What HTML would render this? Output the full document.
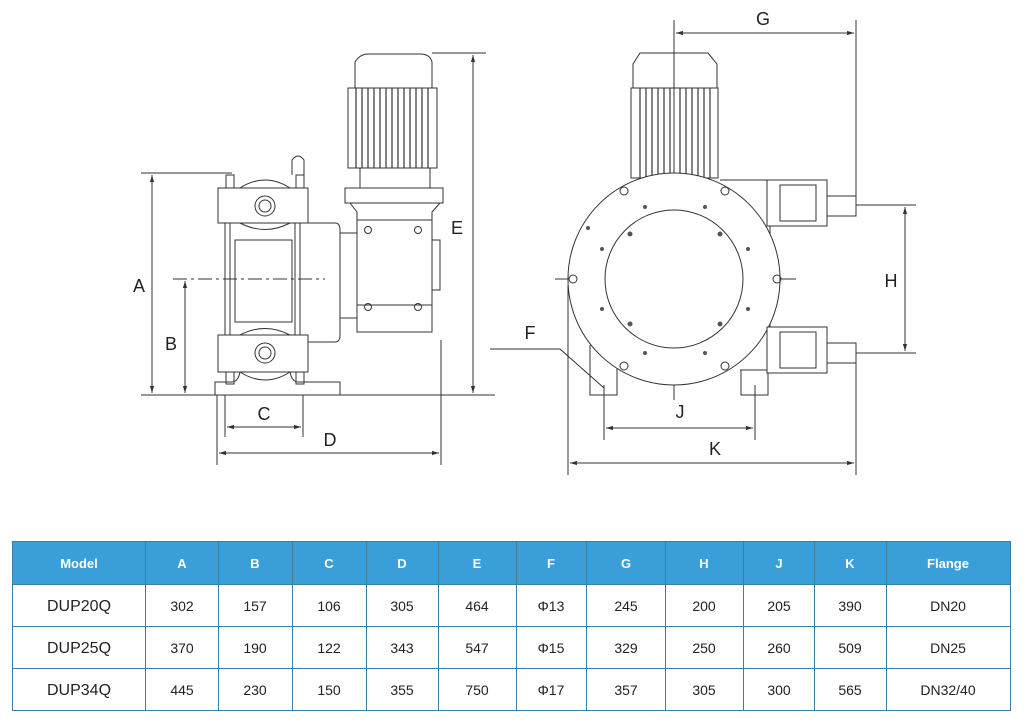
<!DOCTYPE html>
<html><head><meta charset="utf-8"><style>
body{margin:0;background:#fff;width:1026px;height:724px;overflow:hidden;font-family:"Liberation Sans",sans-serif}
svg{position:absolute;left:0;top:0}
text{font-family:"Liberation Sans",sans-serif}
</style></head><body>
<svg width="1026" height="724" viewBox="0 0 1026 724">
<defs>
<marker id="a" viewBox="0 0 10 10" refX="10" refY="5" markerWidth="9" markerHeight="7" orient="auto-start-reverse"><path d="M0,2 L10,5 L0,8 z" fill="#333"/></marker>
</defs>
<g stroke="#333" stroke-width="1" fill="none">
<!-- LEFT VIEW dimension lines -->
<line x1="141" y1="173" x2="232" y2="173"/>
<line x1="141" y1="395" x2="495" y2="395"/>
<line x1="152" y1="175" x2="152" y2="393" marker-start="url(#a)" marker-end="url(#a)"/>
<line x1="185" y1="281" x2="185" y2="393" marker-start="url(#a)" marker-end="url(#a)"/>
<line x1="173" y1="279" x2="325" y2="279" stroke-dasharray="14,4,3,4"/>
<line x1="225" y1="395" x2="225" y2="437"/><line x1="303" y1="395" x2="303" y2="437"/>
<line x1="227" y1="427" x2="301" y2="427" marker-start="url(#a)" marker-end="url(#a)"/>
<line x1="217" y1="395" x2="217" y2="465"/><line x1="441" y1="340" x2="441" y2="465"/>
<line x1="219" y1="453" x2="439" y2="453" marker-start="url(#a)" marker-end="url(#a)"/>
<line x1="432" y1="53" x2="486" y2="53"/>
<line x1="473" y1="55" x2="473" y2="393" marker-start="url(#a)" marker-end="url(#a)"/>
<!-- pump body left -->
<rect x="218" y="188" width="90" height="35"/>
<rect x="218" y="335" width="90" height="37"/>
<rect x="225" y="223" width="75" height="112"/>
<rect x="235" y="240" width="57" height="82"/>
<line x1="230" y1="223" x2="230" y2="335"/><line x1="295" y1="223" x2="295" y2="335"/>
<path d="M300,223 H335 Q340,223 340,230 V335 Q340,342 335,342 H308"/>
<circle cx="265" cy="206" r="10"/><circle cx="265" cy="206" r="6"/>
<circle cx="265" cy="353" r="10"/><circle cx="265" cy="353" r="6"/>
<path d="M240,188 Q265,172 290,188"/><path d="M240,372 Q265,388 290,372"/>
<path d="M240,223 Q265,236 290,223"/><path d="M240,335 Q265,322 290,335"/>
<path d="M292,175 V160 Q298,152 304,160 V175"/>
<rect x="226" y="175" width="8" height="13"/><rect x="296" y="175" width="8" height="13"/>
<path d="M215,395 V382 H232 Q238,382 240,372 M290,372 Q292,382 298,382 H340 V395"/>
<rect x="226" y="372" width="8" height="12"/><rect x="296" y="372" width="8" height="12"/>
<!-- gearbox -->
<rect x="340" y="233" width="17" height="85"/>
<rect x="345" y="188" width="98" height="15"/>
<path d="M350,203 L357,212 V332 H432 V212 L440,203"/>
<line x1="357" y1="220" x2="432" y2="220"/><line x1="357" y1="305" x2="432" y2="305"/>
<circle cx="368" cy="230" r="3.5"/><circle cx="418" cy="230" r="3.5"/>
<circle cx="368" cy="307" r="3.5"/><circle cx="418" cy="307" r="3.5"/>
<rect x="432" y="240" width="8" height="50"/>
<rect x="360" y="168" width="70" height="20"/>
<!-- motor left -->
<path d="M355,88 V62 Q360,54 368,54 H420 Q430,54 432,62 V88"/>
<rect x="348" y="88" width="89" height="80"/>
<g stroke-width="1.2">
<line x1="356" y1="88" x2="356" y2="168"/><line x1="362" y1="88" x2="362" y2="168"/><line x1="368" y1="88" x2="368" y2="168"/><line x1="374" y1="88" x2="374" y2="168"/><line x1="380" y1="88" x2="380" y2="168"/><line x1="386" y1="88" x2="386" y2="168"/><line x1="392" y1="88" x2="392" y2="168"/><line x1="398" y1="88" x2="398" y2="168"/><line x1="404" y1="88" x2="404" y2="168"/><line x1="410" y1="88" x2="410" y2="168"/><line x1="416" y1="88" x2="416" y2="168"/><line x1="422" y1="88" x2="422" y2="168"/><line x1="428" y1="88" x2="428" y2="168"/>
</g>
<!-- RIGHT VIEW -->
<line x1="674" y1="20" x2="674" y2="400"/>
<line x1="555" y1="279" x2="796" y2="279"/>
<line x1="676" y1="33" x2="854" y2="33" marker-start="url(#a)" marker-end="url(#a)"/>
<line x1="856" y1="20" x2="856" y2="210"/>
<line x1="856" y1="355" x2="856" y2="475"/>
<line x1="856" y1="205" x2="916" y2="205"/><line x1="856" y1="353" x2="916" y2="353"/>
<line x1="905" y1="207" x2="905" y2="351" marker-start="url(#a)" marker-end="url(#a)"/>
<line x1="568" y1="285" x2="568" y2="475"/>
<line x1="570" y1="463" x2="854" y2="463" marker-start="url(#a)" marker-end="url(#a)"/>
<line x1="604" y1="385" x2="604" y2="440"/><line x1="755" y1="385" x2="755" y2="440"/>
<line x1="606" y1="428" x2="753" y2="428" marker-start="url(#a)" marker-end="url(#a)"/>
<path d="M490,349 H560 L604,388"/>
<path d="M633,88 V64 L640,53 H708 L717,64 V88"/>
<rect x="631" y="88" width="87" height="90"/>
<g stroke-width="1.2">
<line x1="640" y1="88" x2="640" y2="178"/><line x1="646" y1="88" x2="646" y2="178"/><line x1="652" y1="88" x2="652" y2="178"/><line x1="658" y1="88" x2="658" y2="178"/><line x1="664" y1="88" x2="664" y2="178"/><line x1="670" y1="88" x2="670" y2="178"/><line x1="680" y1="88" x2="680" y2="178"/><line x1="686" y1="88" x2="686" y2="178"/><line x1="692" y1="88" x2="692" y2="178"/><line x1="698" y1="88" x2="698" y2="178"/><line x1="704" y1="88" x2="704" y2="178"/><line x1="710" y1="88" x2="710" y2="178"/>
</g>
<path d="M590,345 V395 H617 V360 M741,370 V395 H768 V370"/>
<path d="M720,180 H770 V370 H740"/>
<circle cx="674" cy="279" r="106" fill="#fff"/>
<circle cx="674" cy="279" r="69"/>
<rect x="767" y="180" width="60" height="46" fill="#fff"/>
<rect x="780" y="185" width="36" height="36"/>
<rect x="767" y="327" width="60" height="46" fill="#fff"/>
<rect x="780" y="332" width="36" height="36"/>
<rect x="827" y="196" width="29" height="20"/>
<rect x="827" y="343" width="29" height="20"/>
<circle cx="624" cy="191" r="4"/><circle cx="725" cy="191" r="4"/>
<circle cx="624" cy="366" r="4"/><circle cx="725" cy="366" r="4"/>
<circle cx="573" cy="279" r="4"/><circle cx="777" cy="279" r="4"/>
</g>
<g fill="#555">
<circle cx="645" cy="207" r="2"/><circle cx="705" cy="207" r="2"/><circle cx="588" cy="228" r="2"/><circle cx="602" cy="249" r="2"/><circle cx="748" cy="249" r="2"/>
<circle cx="602" cy="309" r="2"/><circle cx="748" cy="309" r="2"/><circle cx="645" cy="353" r="2"/><circle cx="705" cy="353" r="2"/>
<circle cx="630" cy="234" r="2.5"/><circle cx="720" cy="234" r="2.5"/><circle cx="630" cy="324" r="2.5"/><circle cx="720" cy="324" r="2.5"/>
</g>
<g font-size="18" fill="#222" text-anchor="middle">
<text x="139" y="292">A</text><text x="171" y="350">B</text><text x="264" y="420">C</text><text x="330" y="446">D</text><text x="457" y="234">E</text>
<text x="763" y="25">G</text><text x="530" y="339">F</text><text x="891" y="287">H</text><text x="680" y="418">J</text><text x="715" y="455">K</text>
</g>
<!-- TABLE -->
<rect x="12" y="541" width="998" height="43" fill="#3a9fd8"/>
<g stroke="#3a7fa0" stroke-width="1" fill="none">
<rect x="12.5" y="541.5" width="998" height="169"/>
<line x1="12" y1="584.5" x2="1010" y2="584.5"/><line x1="12" y1="626.5" x2="1010" y2="626.5"/><line x1="12" y1="668.5" x2="1010" y2="668.5"/>
<line x1="145.5" y1="541" x2="145.5" y2="711"/><line x1="218.5" y1="541" x2="218.5" y2="711"/><line x1="292.5" y1="541" x2="292.5" y2="711"/><line x1="366.5" y1="541" x2="366.5" y2="711"/><line x1="438.5" y1="541" x2="438.5" y2="711"/><line x1="516.5" y1="541" x2="516.5" y2="711"/><line x1="586.5" y1="541" x2="586.5" y2="711"/><line x1="665.5" y1="541" x2="665.5" y2="711"/><line x1="743.5" y1="541" x2="743.5" y2="711"/><line x1="814.5" y1="541" x2="814.5" y2="711"/><line x1="886.5" y1="541" x2="886.5" y2="711"/>
</g>
<g font-size="13" font-weight="bold" fill="#fff" text-anchor="middle">
<text x="79" y="568">Model</text><text x="182" y="568">A</text><text x="255" y="568">B</text><text x="329" y="568">C</text><text x="402" y="568">D</text><text x="477" y="568">E</text><text x="551" y="568">F</text><text x="626" y="568">G</text><text x="704" y="568">H</text><text x="779" y="568">J</text><text x="850" y="568">K</text><text x="948" y="568">Flange</text>
</g>
<g font-size="14" fill="#222" text-anchor="middle">
<text x="79" y="611" font-size="16">DUP20Q</text><text x="182" y="611">302</text><text x="255" y="611">157</text><text x="329" y="611">106</text><text x="402" y="611">305</text><text x="477" y="611">464</text><text x="551" y="611">Φ13</text><text x="626" y="611">245</text><text x="704" y="611">200</text><text x="779" y="611">205</text><text x="850" y="611">390</text><text x="948" y="611">DN20</text>
<text x="79" y="653" font-size="16">DUP25Q</text><text x="182" y="653">370</text><text x="255" y="653">190</text><text x="329" y="653">122</text><text x="402" y="653">343</text><text x="477" y="653">547</text><text x="551" y="653">Φ15</text><text x="626" y="653">329</text><text x="704" y="653">250</text><text x="779" y="653">260</text><text x="850" y="653">509</text><text x="948" y="653">DN25</text>
<text x="79" y="695" font-size="16">DUP34Q</text><text x="182" y="695">445</text><text x="255" y="695">230</text><text x="329" y="695">150</text><text x="402" y="695">355</text><text x="477" y="695">750</text><text x="551" y="695">Φ17</text><text x="626" y="695">357</text><text x="704" y="695">305</text><text x="779" y="695">300</text><text x="850" y="695">565</text><text x="948" y="695">DN32/40</text>
</g>
</svg>
</body></html>
